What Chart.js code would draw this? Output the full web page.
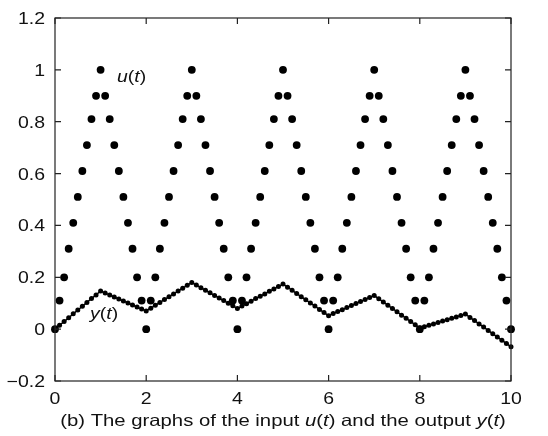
<!DOCTYPE html>
<html>
<head>
<meta charset="utf-8">
<script src="https://cdn.jsdelivr.net/npm/chart.js@4.4.0/dist/chart.umd.min.js"></script>
<style>
    html, body { margin: 0; padding: 0; background: #fff; }
    #wrap { position: relative; width: 548px; height: 436px; }
</style>
</head>
<body>
<div id="wrap"><canvas id="chart" width="548" height="436"></canvas></div>
<script>
// Sample times, step 0.1
const tValues = [
    0.0, 0.1, 0.2, 0.3, 0.4, 0.5, 0.6, 0.7, 0.8, 0.9,
    1.0, 1.1, 1.2, 1.3, 1.4, 1.5, 1.6, 1.7, 1.8, 1.9,
    2.0, 2.1, 2.2, 2.3, 2.4, 2.5, 2.6, 2.7, 2.8, 2.9,
    3.0, 3.1, 3.2, 3.3, 3.4, 3.5, 3.6, 3.7, 3.8, 3.9,
    4.0, 4.1, 4.2, 4.3, 4.4, 4.5, 4.6, 4.7, 4.8, 4.9,
    5.0, 5.1, 5.2, 5.3, 5.4, 5.5, 5.6, 5.7, 5.8, 5.9,
    6.0, 6.1, 6.2, 6.3, 6.4, 6.5, 6.6, 6.7, 6.8, 6.9,
    7.0, 7.1, 7.2, 7.3, 7.4, 7.5, 7.6, 7.7, 7.8, 7.9,
    8.0, 8.1, 8.2, 8.3, 8.4, 8.5, 8.6, 8.7, 8.8, 8.9,
    9.0, 9.1, 9.2, 9.3, 9.4, 9.5, 9.6, 9.7, 9.8, 9.9,
    10.0,
];

// Input u(t)
const uValues = [
    0, 0.11, 0.2, 0.31, 0.41, 0.51, 0.61, 0.71, 0.81, 0.9,
    1.0, 0.9, 0.81, 0.71, 0.61, 0.51, 0.41, 0.31, 0.2, 0.11,
    0, 0.11, 0.2, 0.31, 0.41, 0.51, 0.61, 0.71, 0.81, 0.9,
    1.0, 0.9, 0.81, 0.71, 0.61, 0.51, 0.41, 0.31, 0.2, 0.11,
    0, 0.11, 0.2, 0.31, 0.41, 0.51, 0.61, 0.71, 0.81, 0.9,
    1.0, 0.9, 0.81, 0.71, 0.61, 0.51, 0.41, 0.31, 0.2, 0.11,
    0, 0.11, 0.2, 0.31, 0.41, 0.51, 0.61, 0.71, 0.81, 0.9,
    1.0, 0.9, 0.81, 0.71, 0.61, 0.51, 0.41, 0.31, 0.2, 0.11,
    0, 0.11, 0.2, 0.31, 0.41, 0.51, 0.61, 0.71, 0.81, 0.9,
    1.0, 0.9, 0.81, 0.71, 0.61, 0.51, 0.41, 0.31, 0.2, 0.11,
    0,
];

// Output y(t)
const yValues = [
    0, 0.015, 0.029, 0.044, 0.059, 0.074, 0.088, 0.103, 0.118, 0.132,
    0.147, 0.139, 0.132, 0.124, 0.116, 0.109, 0.101, 0.093, 0.085, 0.078,
    0.07, 0.081, 0.092, 0.103, 0.114, 0.125, 0.136, 0.147, 0.158, 0.169,
    0.18, 0.17, 0.16, 0.15, 0.14, 0.13, 0.12, 0.11, 0.10, 0.09,
    0.08, 0.089, 0.098, 0.108, 0.118, 0.127, 0.136, 0.146, 0.155, 0.164,
    0.174, 0.162, 0.15, 0.137, 0.125, 0.113, 0.101, 0.089, 0.076, 0.064,
    0.052, 0.06, 0.068, 0.075, 0.083, 0.091, 0.099, 0.107, 0.114, 0.122,
    0.13, 0.117, 0.105, 0.092, 0.08, 0.067, 0.054, 0.042, 0.029, 0.017,
    0.004, 0.009, 0.015, 0.02, 0.026, 0.031, 0.036, 0.042, 0.047, 0.053,
    0.058, 0.045, 0.033, 0.02, 0.008, -0.005, -0.018, -0.03, -0.043, -0.055,
    -0.068,
];

const xTickLabels = ['0', '2', '4', '6', '8', '10'];
const yTickLabels = ['\u22120.2', '0', '0.2', '0.4', '0.6', '0.8', '1', '1.2'];

const FONT = '"Liberation Sans", Arial, Helvetica, sans-serif';
// The original figure's lettering is a little wider than it is tall
const STRETCH = 1.18;

/**
 * Draw a run of text pieces, some italic, stretched sideways
 *
 * @param {Object} ctx Canvas context
 * @param {Array} parts Array of [text, italic]
 * @param {Number} x Anchor x
 * @param {Number} y Baseline
 * @param {Number} size Font size in px
 * @param {String} align 'left', 'center' or 'right'
 * @param {Number} sx Horizontal stretch
 */
function drawRun(ctx, parts, x, y, size, align, sx) {
    'use strict';
    const fontOf = (italic) => (italic ? 'italic ' : '') + size + 'px ' + FONT;
    let total = 0;
    for (const p of parts) {
        ctx.font = fontOf(p[1]);
        total += ctx.measureText(p[0]).width;
    }
    let cx = 0;
    if (align == 'center')
        cx = -total / 2;
    else if (align == 'right')
        cx = -total;
    ctx.save();
    ctx.translate(x, y);
    ctx.scale(sx, 1);
    ctx.textAlign = 'left';
    ctx.textBaseline = 'alphabetic';
    for (const p of parts) {
        ctx.font = fontOf(p[1]);
        ctx.fillText(p[0], cx, 0);
        cx += ctx.measureText(p[0]).width;
    }
    ctx.restore();
}

// Box round the plot area with inward ticks on every side, plus all lettering
const pluginFrame = {
    id: 'frame',
    afterDraw: function(chart) {
        'use strict';
        const ctx = chart.ctx;
        const area = chart.chartArea;
        const xs = chart.scales.x;
        const ys = chart.scales.y;
        const len = 6;
        ctx.save();
        ctx.strokeStyle = '#222';
        ctx.lineWidth = 1.2;
        ctx.strokeRect(area.left, area.top, area.right - area.left, area.bottom - area.top);
        ctx.beginPath();
        for (const tk of xs.ticks) {
            const px = xs.getPixelForValue(tk.value);
            ctx.moveTo(px, area.bottom);
            ctx.lineTo(px, area.bottom - len);
            ctx.moveTo(px, area.top);
            ctx.lineTo(px, area.top + len);
        }
        for (const tk of ys.ticks) {
            const py = ys.getPixelForValue(tk.value);
            ctx.moveTo(area.left, py);
            ctx.lineTo(area.left + len, py);
            ctx.moveTo(area.right, py);
            ctx.lineTo(area.right - len, py);
        }
        ctx.stroke();

        ctx.fillStyle = '#111';
        // Tick labels
        xs.ticks.forEach((tk, i) => {
            drawRun(ctx, [[xTickLabels[i], false]], xs.getPixelForValue(tk.value),
                area.bottom + 23, 16.5, 'center', STRETCH);
        });
        ys.ticks.forEach((tk, i) => {
            drawRun(ctx, [[yTickLabels[i], false]], area.left - 10,
                ys.getPixelForValue(tk.value) + 6, 16.5, 'right', STRETCH);
        });

        // Curve names
        drawRun(ctx, [['u', true], ['(', false], ['t', true], [')', false]],
            xs.getPixelForValue(1.36), ys.getPixelForValue(0.955), 16.5, 'left', STRETCH);
        drawRun(ctx, [['y', true], ['(', false], ['t', true], [')', false]],
            xs.getPixelForValue(0.77), ys.getPixelForValue(0.04), 16.5, 'left', STRETCH);

        // Caption
        drawRun(ctx, [
            ['(b) The graphs of the input ', false], ['u', true], ['(', false], ['t', true],
            [') and the output ', false], ['y', true], ['(', false], ['t', true], [')', false],
        ], 283, 426, 16.5, 'center', 1.23);
        ctx.restore();
    },
};

const ctx = document.getElementById('chart').getContext('2d');
new Chart(ctx, {
    type: 'scatter',
    data: {
        datasets: [
            {
                label: 'u(t)',
                data: tValues.map((t, i) => ({x: t, y: uValues[i]})),
                showLine: false,
                pointRadius: 3.9,
                pointHoverRadius: 3.9,
                pointBackgroundColor: '#000',
                pointBorderWidth: 0,
                clip: false,
            },
            {
                label: 'y(t)',
                data: tValues.map((t, i) => ({x: t, y: yValues[i]})),
                showLine: true,
                borderColor: '#000',
                borderWidth: 1.5,
                pointRadius: 2.5,
                pointHoverRadius: 2.5,
                pointBackgroundColor: '#000',
                pointBorderWidth: 0,
                clip: false,
            },
        ],
    },
    options: {
        responsive: false,
        animation: false,
        events: [],
        layout: {
            padding: {left: 0, right: 37, top: 18, bottom: 0},
        },
        scales: {
            x: {
                type: 'linear',
                min: 0,
                max: 10,
                grid: {display: false},
                border: {display: false},
                afterFit: function(scale) {
                    scale.height = 55;
                },
                ticks: {
                    display: false,
                    stepSize: 2,
                },
            },
            y: {
                type: 'linear',
                min: -0.2,
                max: 1.2,
                grid: {display: false},
                border: {display: false},
                afterFit: function(scale) {
                    scale.width = 55;
                },
                ticks: {
                    display: false,
                    stepSize: 0.2,
                },
            },
        },
        plugins: {
            legend: {display: false},
            tooltip: {enabled: false},
        },
    },
    plugins: [pluginFrame],
});
</script>
</body>
</html>
